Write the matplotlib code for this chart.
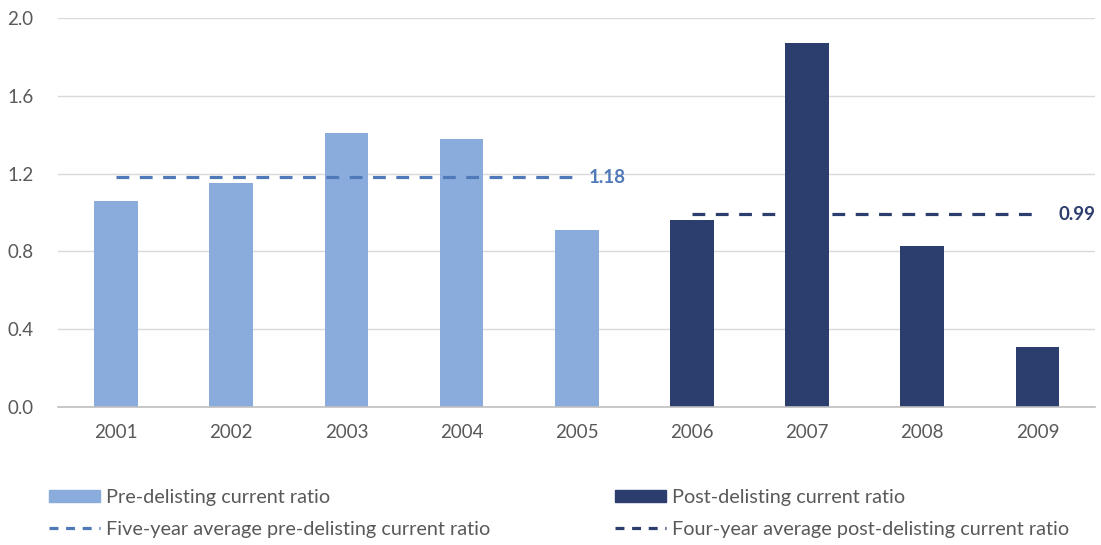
import matplotlib
matplotlib.use("Agg")
import matplotlib.pyplot as plt
import numpy as np
from matplotlib.patches import Patch
from matplotlib.lines import Line2D

plt.rcParams['font.family'] = ['Lato', 'DejaVu Sans']

years = ['2001', '2002', '2003', '2004', '2005', '2006', '2007', '2008', '2009']
pre_years = ['2001', '2002', '2003', '2004', '2005']
pre_values = [1.06, 1.15, 1.41, 1.38, 0.91]
post_years = ['2006', '2007', '2008', '2009']
post_values = [0.96, 1.87, 0.83, 0.31]
pre_average = 1.18
post_average = 0.99
y_ticks = [0.0, 0.4, 0.8, 1.2, 1.6, 2.0]

light_blue = '#8AACDC'
navy = '#2C3E6D'
mid_blue = '#4F79B8'
text_grey = '#595959'

fig = plt.figure(figsize=(11.01, 5.45), dpi=100)
ax = fig.add_axes([0.0531, 0.2532, 0.9415, 0.7138])

x = np.arange(len(years))
pre_x = [years.index(y) for y in pre_years]
post_x = [years.index(y) for y in post_years]

ax.bar(pre_x, pre_values, width=0.38, color=light_blue, zorder=3)
ax.bar(post_x, post_values, width=0.38, color=navy, zorder=3)

dash = (4, 3.3)
ax.plot([pre_x[0], pre_x[-1]], [pre_average, pre_average], color=mid_blue,
        lw=2.3, dashes=dash, zorder=4)
ax.plot([post_x[0], post_x[-1]], [post_average, post_average], color=navy,
        lw=2.3, dashes=dash, zorder=4)
ax.text(pre_x[-1] + 0.1, pre_average, f'{pre_average:.2f}', color=mid_blue,
        fontsize=13.5, fontweight='bold', va='center', ha='left', zorder=5)
ax.text(post_x[-1] + 0.18, post_average, f'{post_average:.2f}', color=navy,
        fontsize=13.5, fontweight='bold', va='center', ha='left', zorder=5)

ax.set_xlim(-0.5, len(years) - 0.5)
ax.set_ylim(0, 2.0)
ax.set_yticks(y_ticks)
ax.set_yticklabels([f'{v:.1f}' for v in y_ticks])
ax.set_xticks(x)
ax.set_xticklabels(years)
ax.tick_params(axis='both', length=0, labelsize=13.5, labelcolor=text_grey)
ax.tick_params(axis='y', pad=18)
ax.tick_params(axis='x', pad=12)
ax.grid(axis='y', color='#D9D9D9', lw=1, zorder=0)
for side in ['top', 'right', 'left']:
    ax.spines[side].set_visible(False)
ax.spines['bottom'].set_color('#BFBFBF')
ax.spines['bottom'].set_linewidth(1.2)
ax.spines['bottom'].set_zorder(4)

legend_kw = dict(frameon=False, fontsize=14.3, handlelength=2.55, handleheight=0.55,
                 handletextpad=0.3, labelspacing=0.75, borderpad=0, borderaxespad=0,
                 labelcolor=text_grey, loc='upper left')
leg1 = fig.legend(handles=[Patch(color=light_blue, label='Pre-delisting current ratio'),
                           Line2D([], [], color=mid_blue, lw=2.3, dashes=(2.8, 2.4),
                                  label='Five-year average pre-delisting current ratio')],
                  bbox_to_anchor=(49 / 1101, 1 - 489 / 545), **legend_kw)
leg2 = fig.legend(handles=[Patch(color=navy, label='Post-delisting current ratio'),
                           Line2D([], [], color=navy, lw=2.3, dashes=(2.8, 2.4),
                                  label='Four-year average post-delisting current ratio')],
                  bbox_to_anchor=(615 / 1101, 1 - 489 / 545), **legend_kw)

fig.savefig('out.png', dpi=100)
